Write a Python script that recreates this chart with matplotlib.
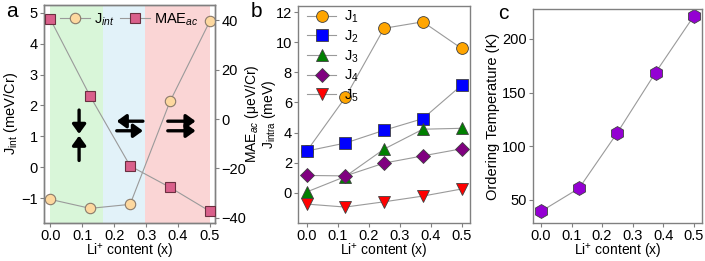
import numpy as np
import matplotlib.pyplot as plt

plt.rcParams['font.family'] = ['Liberation Sans', 'DejaVu Sans']
plt.rcParams['font.size'] = 10
plt.rcParams['mathtext.fontset'] = 'custom'
plt.rcParams['mathtext.rm'] = 'Liberation Sans'
plt.rcParams['mathtext.it'] = 'Liberation Sans:italic'

# -------------------------
# data
# -------------------------
x = [0.0, 0.125, 0.25, 0.375, 0.5]

j_int = [-1.04, -1.33, -1.2, 2.13, 4.73]
mae_ac = [40.5, 9.2, -19.0, -27.7, -37.4]

j1 = [2.75, 6.33, 10.92, 11.35, 9.58]
j2 = [2.77, 3.3, 4.15, 4.92, 7.14]
j3 = [0.05, 1.08, 2.9, 4.22, 4.28]
j4 = [1.15, 1.12, 1.97, 2.45, 2.92]
j5 = [-0.75, -0.95, -0.6, -0.22, 0.25]

t_order = [39, 60.7, 112.5, 168.6, 221.3]

line_col = '#9a9a9a'
spine_col = '#808080'
xlab = 'Li$^{+}$ content (x)'


def style_axes(ax):
    for s in ax.spines.values():
        s.set_color(spine_col)
        s.set_linewidth(1.0)
    ax.tick_params(color=spine_col, length=3, width=0.8, labelsize=10.5, pad=1.5)


fig = plt.figure(figsize=(7.05, 2.61), dpi=100)

# -------------------------
# panel a
# -------------------------
ax1 = fig.add_axes([0.0624, 0.146, 0.2426, 0.835])
ax1.axvspan(0.0, 0.166, color='#d9f6d9', lw=0, zorder=0)
ax1.axvspan(0.166, 0.295, color='#e2f2f9', lw=0, zorder=0)
ax1.axvspan(0.295, 0.5, color='#fad5d5', lw=0, zorder=0)

l1, = ax1.plot(x, j_int, '-o', color=line_col, lw=0.8, ms=7.5,
               mfc='#fdd89f', mec='#8a7a6a', mew=0.8, zorder=3)
ax1.set_xlim(-0.02, 0.516)
ax1.set_ylim(-1.8, 5.25)
ax1.set_xticks([0.0, 0.1, 0.2, 0.3, 0.4, 0.5])
ax1.set_yticks([-1, 0, 1, 2, 3, 4, 5])
ax1.set_xlabel(xlab, labelpad=-0.5, fontsize=10)
ax1.set_ylabel('J$_{\\rm int}$ (meV/Cr)', labelpad=0.5, fontsize=10.5)

ax2 = ax1.twinx()
l2, = ax2.plot(x, mae_ac, '-s', color=line_col, lw=0.8, ms=7.5,
               mfc='#d9608b', mec='#6a3040', mew=0.8, zorder=3)
ax2.set_ylim(-42.1, 46.3)
ax2.set_yticks([-40, -20, 0, 20, 40])
ax2.set_ylabel('MAE$_{ac}$ (μeV/Cr)', labelpad=-2, fontsize=10)
style_axes(ax1)
style_axes(ax2)

arrow_kw = dict(arrowstyle='-|>,head_width=0.4,head_length=0.55', lw=2.4, color='k',
                shrinkA=0, shrinkB=0)
ax1.annotate('', xy=(0.09, 1.08), xytext=(0.09, 1.85), arrowprops=arrow_kw)
ax1.annotate('', xy=(0.09, 1.02), xytext=(0.09, 0.22), arrowprops=arrow_kw)
ax1.annotate('', xy=(0.208, 1.49), xytext=(0.29, 1.49), arrowprops=arrow_kw)
ax1.annotate('', xy=(0.29, 1.18), xytext=(0.208, 1.18), arrowprops=arrow_kw)
ax1.annotate('', xy=(0.455, 1.49), xytext=(0.368, 1.49), arrowprops=arrow_kw)
ax1.annotate('', xy=(0.455, 1.18), xytext=(0.368, 1.18), arrowprops=arrow_kw)

ax2.legend([l1, l2], ['J$_{int}$', 'MAE$_{ac}$'], loc='upper center',
           bbox_to_anchor=(0.5, 1.01), ncol=2, frameon=False, fontsize=10.5,
           handlelength=2.0, handletextpad=0.3, columnspacing=0.4, borderaxespad=0.2)
fig.text(0.008, 0.955, 'a', fontsize=15, va='center')

# -------------------------
# panel b
# -------------------------
axb = fig.add_axes([0.423, 0.146, 0.2436, 0.831])
series = [(j1, 'o', '#ffa500', 'J$_1$'),
          (j2, 's', '#0000ff', 'J$_2$'),
          (j3, '^', '#008000', 'J$_3$'),
          (j4, 'D', '#800080', 'J$_4$'),
          (j5, 'v', '#ff0000', 'J$_5$')]
for vals, m, c, lab in series:
    ms = 7 if m == 'D' else 8.5
    axb.plot(x, vals, '-', marker=m, color=line_col, lw=0.8, ms=ms,
             mfc=c, mec='#404040', mew=0.6, label=lab)
axb.set_xlim(-0.027, 0.527)
axb.set_ylim(-2.0, 12.4)
axb.set_xticks([0.0, 0.1, 0.2, 0.3, 0.4, 0.5])
axb.set_yticks([0, 2, 4, 6, 8, 10, 12])
axb.set_xlabel(xlab, labelpad=-0.5, fontsize=10)
axb.set_ylabel('J$_{\\rm intra}$ (meV)', labelpad=-1.5, fontsize=10)
axb.legend(loc='upper left', frameon=False, fontsize=10.5, handlelength=2.0,
           handletextpad=0.5, labelspacing=0.22, borderaxespad=0.1,
           bbox_to_anchor=(0.01, 1.02))
style_axes(axb)
fig.text(0.355, 0.955, 'b', fontsize=15, va='center')

# -------------------------
# panel c
# -------------------------
axc = fig.add_axes([0.7556, 0.146, 0.2401, 0.8195])
axc.plot(x, t_order, '-h', color=line_col, lw=0.8, ms=10,
         mfc='#9400d3', mec='#404040', mew=0.6)
axc.set_xlim(-0.027, 0.527)
axc.set_ylim(28.3, 228)
axc.set_xticks([0.0, 0.1, 0.2, 0.3, 0.4, 0.5])
axc.set_yticks([50, 100, 150, 200])
axc.set_xlabel(xlab, labelpad=-0.5, fontsize=10)
axc.set_ylabel('Ordering Temperature (K)', labelpad=1, fontsize=10.5)
style_axes(axc)
fig.text(0.707, 0.95, 'c', fontsize=15, va='center')

fig.savefig('out.png', dpi=100)
